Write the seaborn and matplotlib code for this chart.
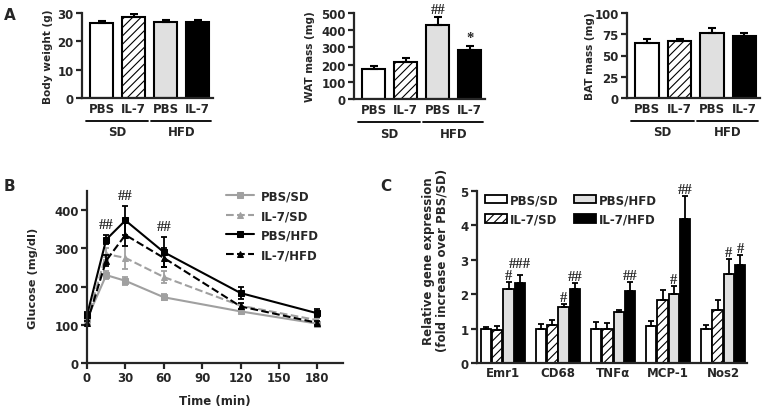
import numpy as np
import pandas as pd
import matplotlib
matplotlib.use("Agg")
import matplotlib.pyplot as plt
import seaborn as sns

sns.set_style("ticks")
plt.rcParams["font.family"] = ["DejaVu Sans"]
plt.rcParams["font.weight"] = "bold"
plt.rcParams["axes.labelweight"] = "bold"
plt.rcParams["font.size"] = 8.5
plt.rcParams["axes.linewidth"] = 1.6
plt.rcParams["hatch.linewidth"] = 0.8
plt.rcParams["xtick.major.width"] = 1.6
plt.rcParams["ytick.major.width"] = 1.6

# ---- data ----
group_keys = ["PBS/SD", "IL-7/SD", "PBS/HFD", "IL-7/HFD"]
treat_labels = ["PBS", "IL-7", "PBS", "IL-7"]
diet_labels = ["SD", "HFD"]

body_weight = [26.5, 28.5, 26.8, 26.8]
body_weight_err = [0.8, 1.0, 0.7, 0.7]
wat_mass = [175, 215, 430, 285]
wat_mass_err = [15, 25, 45, 25]
wat_marks = ["", "", "##", "*"]
bat_mass = [65, 67, 77, 73]
bat_mass_err = [5, 3, 5, 3]

times = [0, 15, 30, 60, 120, 180]
glu_pbs_sd = [115, 230, 215, 172, 135, 103]
glu_pbs_sd_err = [5, 10, 10, 8, 5, 5]
glu_il7_sd = [110, 285, 275, 225, 150, 112]
glu_il7_sd_err = [5, 15, 30, 15, 8, 5]
glu_pbs_hfd = [125, 323, 373, 290, 183, 130]
glu_pbs_hfd_err = [8, 12, 38, 40, 15, 10]
glu_il7_hfd = [105, 268, 335, 275, 148, 105]
glu_il7_hfd_err = [5, 15, 30, 25, 8, 5]
glu_marks = ["", "##", "##", "##", "", ""]

genes = ["Emr1", "CD68", "TNFα", "MCP-1", "Nos2"]
expr_pbs_sd = [1.0, 1.0, 1.0, 1.07, 1.0]
expr_pbs_sd_err = [0.05, 0.12, 0.2, 0.15, 0.1]
expr_il7_sd = [0.97, 1.1, 0.98, 1.83, 1.53]
expr_il7_sd_err = [0.1, 0.15, 0.17, 0.3, 0.3]
expr_pbs_hfd = [2.15, 1.63, 1.48, 2.0, 2.58]
expr_pbs_hfd_err = [0.2, 0.08, 0.07, 0.23, 0.45]
expr_il7_hfd = [2.33, 2.15, 2.1, 4.2, 2.85]
expr_il7_hfd_err = [0.22, 0.17, 0.25, 0.65, 0.3]
expr_marks_pbs_hfd = ["#", "#", "", "#", "#"]
expr_marks_il7_hfd = ["###", "##", "##", "##", "#"]

# ---- styles ----
bar_faces = ["white", "white", "#e0e0e0", "black"]
bar_hatches = [None, "////", None, None]
mark_font = ["Liberation Serif", "DejaVu Serif"]

fig = plt.figure(figsize=(7.65, 4.14), dpi=100)


def px_axes(x0, y0, x1, y1):
    W, H = 765, 414
    return fig.add_axes([x0 / W, 1 - y1 / H, (x1 - x0) / W, (y1 - y0) / H])


def style_bars(ax, patches):
    for p, fc, h in zip(patches, bar_faces, bar_hatches):
        p.set_facecolor(fc)
        p.set_edgecolor("black")
        p.set_linewidth(1.5)
        if h:
            p.set_hatch(h)


def panel_a(ax, values, errs, ylabel, ymax, ystep, marks=None, lab_x=-0.3):
    sns.barplot(x=group_keys, y=values, order=group_keys, ax=ax, width=0.72,
                errorbar=None, color="white")
    style_bars(ax, ax.patches)
    xs = np.arange(len(values))
    ax.errorbar(xs, values, yerr=[np.zeros(len(errs)), errs], fmt="none",
                ecolor="black", elinewidth=1.5, capsize=3, capthick=1.5, zorder=1)
    if marks:
        for x, v, e, m in zip(xs, values, errs, marks):
            if m:
                ax.annotate(m, (x, v + e), xytext=(0, 1), textcoords="offset points",
                            ha="center", va="bottom", fontsize=10.5, family=mark_font,
                            fontweight="bold")
    ax.set_ylim(0, ymax)
    ax.set_yticks(np.arange(0, ymax + 1, ystep))
    ax.set_xlim(-0.62, 3.48)
    ax.set_xticks(xs)
    ax.set_xticklabels(treat_labels)
    ax.tick_params(axis="x", length=0, pad=3)
    ax.tick_params(axis="y", length=4, pad=2)
    ax.set_xlabel("")
    ax.set_ylabel(ylabel, fontsize=7.6)
    ax.yaxis.set_label_coords(lab_x, 0.5)
    sns.despine(ax=ax)
    tr = ax.get_xaxis_transform()
    for (a, b), lab in zip([(-0.5, 1.45), (1.55, 3.42)], diet_labels):
        ax.plot([a, b], [-0.27, -0.27], color="black", lw=1.3, transform=tr,
                clip_on=False)
        ax.text((a + b) / 2, -0.40, lab, transform=tr, ha="center", va="center")


axA1 = px_axes(82, 14, 213, 99)
panel_a(axA1, body_weight, body_weight_err, "Body weight (g)", 30, 10, lab_x=-0.22)
axA2 = px_axes(354, 14, 485, 100)
panel_a(axA2, wat_mass, wat_mass_err, "WAT mass (mg)", 500, 100, marks=wat_marks,
        lab_x=-0.30)
axA3 = px_axes(627, 14, 760, 99)
panel_a(axA3, bat_mass, bat_mass_err, "BAT mass (mg)", 100, 25, lab_x=-0.24)

# ---- panel B ----
axB = px_axes(87, 192, 343, 364)
series_b = [
    ("PBS/SD", glu_pbs_sd, glu_pbs_sd_err, "#a0a0a0", "-", "s"),
    ("IL-7/SD", glu_il7_sd, glu_il7_sd_err, "#a0a0a0", "--", "^"),
    ("PBS/HFD", glu_pbs_hfd, glu_pbs_hfd_err, "black", "-", "s"),
    ("IL-7/HFD", glu_il7_hfd, glu_il7_hfd_err, "black", "--", "^"),
]
for name, vals, errs, col, ls, mk in series_b:
    sns.lineplot(x=times, y=vals, ax=axB, color=col, linestyle=ls, marker=mk,
                 markersize=4.5, markeredgecolor=col, lw=1.5, label=name,
                 errorbar=None, clip_on=False)
    axB.errorbar(times, vals, yerr=errs, fmt="none", ecolor=col, elinewidth=1.3,
                 capsize=2.5, capthick=1.3, clip_on=False)
for t, v, e, m in zip(times, glu_pbs_hfd, glu_pbs_hfd_err, glu_marks):
    if m:
        axB.annotate(m, (t, v + e), xytext=(0, 3), textcoords="offset points",
                     ha="center", va="bottom", fontsize=10.5, family=mark_font,
                     fontweight="bold")
axB.set_xlim(0, 200)
axB.set_ylim(0, 450)
axB.set_xticks([0, 30, 60, 90, 120, 150, 180])
axB.set_yticks([0, 100, 200, 300, 400])
axB.tick_params(length=4, pad=2)
axB.set_xlabel("Time (min)", labelpad=7)
axB.set_ylabel("Glucose (mg/dl)", fontsize=8.2)
axB.yaxis.set_label_coords(-0.19, 0.5)
sns.despine(ax=axB)
axB.legend(loc="upper left", bbox_to_anchor=(0.5, 1.07), frameon=False,
           handlelength=2.4, labelspacing=0.55, handletextpad=0.6)

# ---- panel C ----
axC = px_axes(477, 192, 747, 364)
expr = pd.DataFrame({
    "gene": genes * 4,
    "group": np.repeat(group_keys, len(genes)),
    "value": expr_pbs_sd + expr_il7_sd + expr_pbs_hfd + expr_il7_hfd,
})
expr_errs = [expr_pbs_sd_err, expr_il7_sd_err, expr_pbs_hfd_err, expr_il7_hfd_err]
expr_vals = [expr_pbs_sd, expr_il7_sd, expr_pbs_hfd, expr_il7_hfd]
expr_marks = [None, None, expr_marks_pbs_hfd, expr_marks_il7_hfd]
sns.barplot(data=expr, x="gene", y="value", hue="group", order=genes,
            hue_order=group_keys, ax=axC, errorbar=None, width=0.82, gap=0.08,
            palette=["white"] * 4)
bar_conts = list(axC.containers)
for i, cont in enumerate(bar_conts):
    xs = []
    for p in cont.patches:
        p.set_facecolor(bar_faces[i])
        p.set_edgecolor("black")
        p.set_linewidth(1.3)
        if bar_hatches[i]:
            p.set_hatch(bar_hatches[i])
        xs.append(p.get_x() + p.get_width() / 2)
    axC.errorbar(xs, expr_vals[i], yerr=[np.zeros(len(genes)), expr_errs[i]],
                 fmt="none", ecolor="black", elinewidth=1.3, capsize=2.5,
                 capthick=1.3, zorder=1)
    if expr_marks[i]:
        for x, v, e, m in zip(xs, expr_vals[i], expr_errs[i], expr_marks[i]):
            if m:
                lift = 4 if len(m) == 3 else 0
                axC.annotate(m, (x, v + e), xytext=(0, lift),
                             textcoords="offset points", ha="center", va="bottom",
                             fontsize=10.5, family=mark_font, fontweight="bold")
axC.set_ylim(0, 5)
axC.set_xlim(-0.47, 4.43)
axC.set_yticks([0, 1, 2, 3, 4, 5])
axC.tick_params(axis="x", length=0, pad=2)
axC.tick_params(axis="y", length=4, pad=2)
axC.set_xlabel("")
axC.set_ylabel("Relative gene expression\n(fold increase over PBS/SD)",
               linespacing=1.05)
axC.yaxis.set_label_coords(-0.105, 0.6)
sns.despine(ax=axC)
handles, labels = axC.get_legend_handles_labels()
for h, fc, hat in zip(handles, bar_faces, bar_hatches):
    h.set_facecolor(fc)
    h.set_edgecolor("black")
    h.set_linewidth(1.3)
    if hat:
        h.set_hatch(hat)
axC.legend(handles, labels, ncol=2, loc="upper left", bbox_to_anchor=(-0.01, 1.05),
           frameon=False, handlelength=1.9, handleheight=0.75, columnspacing=1.3,
           handletextpad=0.2, labelspacing=0.55)

# panel letters
fig.text(4 / 765, 1 - 16 / 414, "A", fontsize=11, fontweight="bold", va="center")
fig.text(4 / 765, 1 - 187 / 414, "B", fontsize=11, fontweight="bold", va="center")
fig.text(380 / 765, 1 - 187 / 414, "C", fontsize=11, fontweight="bold", va="center")

fig.savefig("out.png", dpi=100)
